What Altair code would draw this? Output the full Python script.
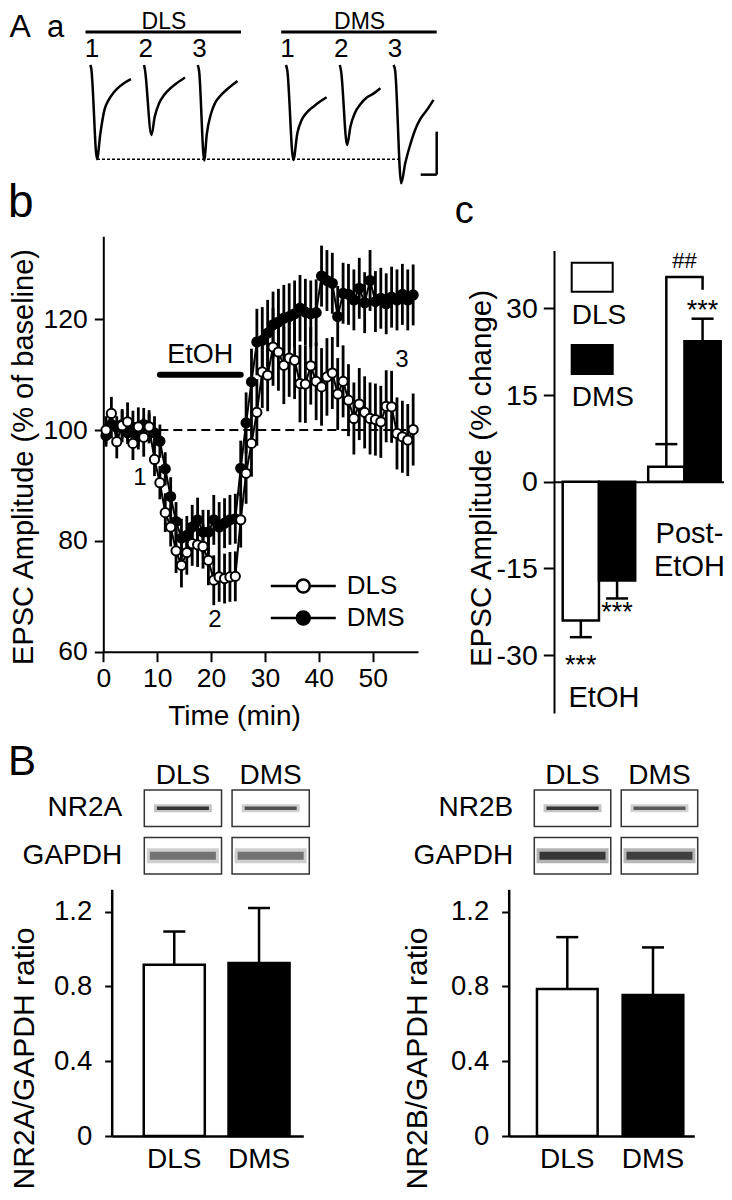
import altair as alt
import pandas as pd

FONT = "Liberation Sans"
W, H = 716, 1184
MARGIN = 8


def px(v):
    """page pixel -> chart pixel (layout only)"""
    return v - MARGIN


REGIONS = ["DLS", "DMS"]

# ---------------- Panel A a : example EPSC traces (ms from onset, pA) ----------------
TRACE_DLS_1_T = [0, 0.6, 4.2, 6.3, 8.8, 11.5, 14.6, 17.7, 20.8, 25.4]
TRACE_DLS_1_I = [0, -8, -219, -159, -105, -81, -64, -52, -43, -33]
TRACE_DLS_2_T = [0, 0.6, 4.6, 6.7, 9.4, 12.5, 15.6, 19.8, 25.6]
TRACE_DLS_2_I = [0, -12, -163, -120, -89, -70, -57, -44, -29]
TRACE_DLS_3_T = [0, 0.8, 4.0, 5.6, 8.1, 10.8, 14.0, 18.1, 24.8]
TRACE_DLS_3_I = [0, -14, -222, -161, -115, -88, -72, -57, -37]
TRACE_DMS_1_T = [0, 0.8, 4.6, 7.1, 9.8, 12.9, 17.1, 21.3, 25.4]
TRACE_DMS_1_I = [0, -12, -221, -159, -128, -111, -97, -85, -75]
TRACE_DMS_2_T = [0, 0.8, 4.6, 6.7, 9.4, 12.9, 17.1, 21.3, 25.4]
TRACE_DMS_2_I = [0, -13, -186, -143, -112, -91, -75, -66, -54]
TRACE_DMS_3_T = [0, 1.0, 4.8, 7.3, 10.4, 13.5, 16.7, 20.8, 25.0]
TRACE_DMS_3_I = [0, -12, -275, -229, -186, -151, -126, -105, -81]
SCALEBAR_MS = 10
SCALEBAR_PA = 100

# ---------------- Panel b : time course ----------------
TIME_MIN = [0.5, 1.5, 2.5, 3.5, 4.5, 5.5, 6.5, 7.5, 8.5, 9.5,
            10.5, 11.5, 12.5, 13.5, 14.5, 15.5, 16.5, 17.5, 18.5, 19.5,
            20.5, 21.5, 22.5, 23.5, 24.5, 25.5, 26.5, 27.5, 28.5, 29.5,
            30.5, 31.5, 32.5, 33.5, 34.5, 35.5, 36.5, 37.5, 38.5, 39.5,
            40.5, 41.5, 42.5, 43.5, 44.5, 45.5, 46.5, 47.5, 48.5, 49.5,
            50.5, 51.5, 52.5, 53.5, 54.5, 55.5, 56.5, 57.5]
DLS_MEAN = [100.0, 103.0, 97.9, 100.8, 101.5, 97.6, 100.6, 98.7, 100.6, 94.7,
            90.5, 85.1, 82.5, 78.2, 75.6, 77.9, 79.5, 79.3, 79.0, 76.5,
            72.9, 73.5, 73.2, 73.5, 73.6, 83.8, 92.2, 97.6, 103.2, 110.5,
            109.9, 115.0, 114.1, 111.7, 113.0, 112.6, 108.4, 108.3, 111.6, 108.8,
            107.8, 109.6, 110.3, 106.5, 108.8, 105.4, 102.1, 104.7, 103.2, 102.1,
            101.9, 101.5, 104.3, 104.2, 99.4, 98.8, 98.2, 100.1]
DLS_SEM = [2.5, 3.0, 3.0, 3.0, 3.5, 3.0, 3.5, 3.5, 3.0, 3.0,
           3.0, 3.5, 3.5, 4.0, 4.0, 4.0, 4.0, 4.0, 4.0, 4.5,
           4.5, 4.5, 4.5, 4.5, 4.5, 5.0, 5.5, 6.0, 6.0, 6.5,
           6.5, 7.0, 7.0, 7.0, 7.0, 7.0, 7.0, 7.0, 7.0, 7.0,
           7.0, 7.0, 6.5, 6.5, 6.5, 6.5, 6.5, 6.5, 6.5, 6.5,
           6.5, 6.5, 6.5, 6.5, 6.5, 6.5, 6.5, 6.5]
DMS_MEAN = [99.0, 101.0, 100.5, 101.0, 99.5, 100.5, 99.0, 101.0, 100.5, 99.5,
            98.0, 93.0, 88.0, 83.5, 80.5, 81.0, 82.5, 83.8, 81.6, 81.6,
            83.8, 82.5, 83.2, 83.8, 84.0, 93.1, 101.3, 108.7, 115.9, 116.2,
            117.5, 119.0, 119.5, 120.2, 120.5, 121.0, 122.0, 121.3, 121.0, 121.2,
            127.8, 127.0, 126.5, 120.5, 124.7, 124.5, 123.5, 125.6, 123.0, 127.0,
            123.2, 123.8, 122.8, 124.0, 123.5, 124.5, 123.5, 124.4]
DMS_SEM = [2.0, 2.5, 2.0, 2.5, 2.0, 3.0, 2.5, 3.0, 2.5, 3.0,
           3.0, 3.0, 3.5, 3.5, 3.5, 3.5, 4.0, 4.0, 4.0, 4.0,
           4.5, 4.5, 4.5, 4.5, 4.5, 5.0, 5.5, 6.0, 6.0, 6.0,
           6.0, 6.0, 6.0, 6.0, 6.0, 6.0, 6.0, 6.0, 6.0, 6.0,
           5.5, 5.5, 5.5, 5.5, 5.5, 5.5, 5.5, 5.5, 5.5, 5.5,
           5.5, 5.5, 5.5, 5.5, 5.5, 5.5, 5.5, 5.5]
ETOH_START, ETOH_END = 10.5, 25.5
B_MARK_LABELS = ["1", "2", "3"]
B_MARK_T = [6.8, 20.7, 55.4]
B_MARK_V = [90.1, 64.5, 111.4]

# ---------------- Panel c : summary ----------------
C_PERIOD = ["EtOH", "EtOH", "Post", "Post"]
C_REGION = ["DLS", "DMS", "DLS", "DMS"]
C_MEAN = [-24.0, -17.1, 2.6, 24.3]
C_SEM = [2.9, 3.1, 3.9, 3.9]
C_SIG = ["***", "***", "", "***"]
C_PAIR_SIG = "##"

# ---------------- Panel B : western blots ----------------
BLOT_LANES = ["DLS", "DMS"]
NR2A_BAND = [0.85, 0.7]
NR2A_GAPDH_BAND = [0.6, 0.6]
NR2B_BAND = [0.85, 0.65]
NR2B_GAPDH_BAND = [0.95, 0.9]
NR2A_RATIO = [0.916, 0.925]
NR2A_RATIO_SEM = [0.178, 0.295]
NR2B_RATIO = [0.786, 0.755]
NR2B_RATIO_SEM = [0.278, 0.254]

# ======================= layout / styles =======================
AX = dict(domainColor="black", tickColor="black", labelColor="black",
          titleColor="black", grid=False, labelFont=FONT, titleFont=FONT,
          titleFontWeight="normal", domainWidth=2, tickWidth=2,
          labelFlush=False, labelOverlap=False)
FILL_EXPR = "datum.region == 'DLS' ? 'white' : 'black'"
units = []

# ---------------- Panel A ----------------
SWEEP_GAP_MS = 33.6
DMS_ONSET_MS = 122.3
xA = alt.Scale(domain=[0, 225], range=[px(90.3), px(90.3) + 225 * 1.6])
yA = alt.Scale(domain=[-300, 120], range=[px(65) + 300 * 0.43, px(65) - 120 * 0.43])


def XA(f):
    return alt.X(f, scale=xA, axis=None)


def YA(f):
    return alt.Y(f, scale=yA, axis=None)


trace_rows = []
for region, sweeps in [
    ("DLS", [(TRACE_DLS_1_T, TRACE_DLS_1_I), (TRACE_DLS_2_T, TRACE_DLS_2_I), (TRACE_DLS_3_T, TRACE_DLS_3_I)]),
    ("DMS", [(TRACE_DMS_1_T, TRACE_DMS_1_I), (TRACE_DMS_2_T, TRACE_DMS_2_I), (TRACE_DMS_3_T, TRACE_DMS_3_I)]),
]:
    for k, (ts, amps) in enumerate(sweeps, start=1):
        for t, a in zip(ts, amps):
            trace_rows.append(dict(region=region, sweep=k, t=t, amp=a))
trace_df = pd.DataFrame(trace_rows)
ONSET = f"((datum.region == 'DMS' ? {DMS_ONSET_MS} : 0) + (datum.sweep - 1) * {SWEEP_GAP_MS})"

units.append(alt.Chart(trace_df).transform_calculate(
    x=f"datum.t + {ONSET}", trace="datum.region + datum.sweep"
).mark_line(color="black", strokeWidth=2.5, interpolate="monotone").encode(
    x=XA("x:Q"), y=YA("amp:Q"), detail="trace:N"))

sweep_df = pd.DataFrame([(r, s) for r in REGIONS for s in (1, 2, 3)], columns=["region", "sweep"])
units.append(alt.Chart(sweep_df).transform_calculate(
    x=f"{ONSET} + 1", y="19", label="'' + datum.sweep"
).mark_text(fontSize=26, baseline="alphabetic", color="black").encode(
    x=XA("x:Q"), y=YA("y:Q"), text="label:N"))

grp = alt.Chart(pd.DataFrame({"region": REGIONS})).transform_calculate(
    onset=f"datum.region == 'DMS' ? {DMS_ONSET_MS} : 0",
    x0="datum.onset - 3", x1=f"datum.onset + {2 * SWEEP_GAP_MS + 27}",
    xm="datum.onset + 46", ybar="77", ylab="84")
units.append(grp.mark_rule(strokeWidth=3, color="black").encode(x=XA("x0:Q"), x2="x1:Q", y=YA("ybar:Q")))
units.append(grp.mark_text(fontSize=23, baseline="alphabetic", color="black").encode(
    x=XA("xm:Q"), y=YA("ylab:Q"), text="region:N"))

ref_level = min(TRACE_DLS_1_I)
ref_x0 = TRACE_DLS_1_T[TRACE_DLS_1_I.index(ref_level)]
ref_x1 = DMS_ONSET_MS + 2 * SWEEP_GAP_MS + TRACE_DMS_3_T[TRACE_DMS_3_I.index(min(TRACE_DMS_3_I))]
units.append(alt.Chart(pd.DataFrame({"x0": [ref_x0], "x1": [ref_x1], "y": [ref_level]})).mark_rule(
    strokeDash=[3, 2], strokeWidth=1.5, color="black").encode(x=XA("x0:Q"), x2="x1:Q", y=YA("y:Q")))

SB_X, SB_Y = 216.5, -255
sb_df = pd.DataFrame({"x0": [SB_X, SB_X - SCALEBAR_MS], "x1": [SB_X, SB_X],
                      "y0": [SB_Y, SB_Y], "y1": [SB_Y + SCALEBAR_PA, SB_Y]})
units.append(alt.Chart(sb_df).mark_rule(strokeWidth=2.5, color="black").encode(
    x=XA("x0:Q"), x2="x1:Q", y=YA("y0:Q"), y2="y1:Q"))

units.append(alt.Chart(pd.DataFrame({"label": ["A", "a"], "x": [-50.5, -27.1], "y": [65.0, 65.0],
                                     "fs": [32, 31]})).mark_text(
    align="left", baseline="alphabetic", color="black").encode(
    x=XA("x:Q"), y=YA("y:Q"), text="label:N", size=alt.Size("fs:Q", scale=None)))

# ---------------- Panel b ----------------
xB = alt.Scale(domain=[0, 58.4], range=[px(103.3), px(418)])
yB = alt.Scale(domain=[60, 135], range=[px(651.7), px(651.7) - 75 * 5.54])


def XB(f, axis=None):
    return alt.X(f, scale=xB, axis=axis)


def YB(f, axis=None):
    return alt.Y(f, scale=yB, axis=axis)


b_rows = []
for region, means, sems in [("DMS", DMS_MEAN, DMS_SEM), ("DLS", DLS_MEAN, DLS_SEM)]:
    for t, m, s in zip(TIME_MIN, means, sems):
        b_rows.append(dict(region=region, t=t, mean=m, sem=s))
b_df = pd.DataFrame(b_rows)

xB_axis = alt.Axis(orient="bottom", offset=px(651.7) - H, values=[0, 10, 20, 30, 40, 50],
                   tickSize=10, labelFontSize=26.5, labelPadding=4, title="Time (min)",
                   titleFontSize=28, titleX=px(234), titleY=73, titleBaseline="alphabetic",
                   titleAlign="center", **AX)
yB_axis = alt.Axis(orient="left", offset=-px(103.3), values=[60, 80, 100, 120], tickSize=9,
                   labelFontSize=26.5, labelPadding=7, title="EPSC Amplitude (% of baseline)",
                   titleFontSize=29, titleX=32 - 103.3, titleY=px(456.5), titleAngle=270,
                   titleBaseline="alphabetic", titleAlign="center", **AX)

units.append(alt.Chart(pd.DataFrame({"x0": [0.0], "x1": [57.5], "y": [100.0]})).mark_rule(
    strokeDash=[9, 5], strokeWidth=2, color="black").encode(x=XB("x0:Q"), x2="x1:Q", y=YB("y:Q")))

base_b = alt.Chart(b_df).transform_calculate(lo="datum.mean - datum.sem", hi="datum.mean + datum.sem")
units.append(base_b.mark_rule(strokeWidth=2.8, color="black").encode(
    x=XB("t:Q"), y=YB("lo:Q"), y2="hi:Q"))
units.append(base_b.mark_line(strokeWidth=2, color="black").encode(
    x=XB("t:Q"), y=YB("mean:Q"), detail="region:N"))

LEG_PATH = "M-2,0L-0.4,0M0.4,0L2,0M-0.4,0A0.4,0.4,0,1,0,0.4,0A0.4,0.4,0,1,0,-0.4,0Z"
legend_b = alt.Legend(orient="none", legendX=px(303.3) - 17.5, legendY=px(586) - 17.5, title=None,
                      symbolType=LEG_PATH, symbolSize=1056, symbolStrokeColor="black",
                      symbolStrokeWidth=2.5, symbolOpacity=1, labelFontSize=26, labelFont=FONT,
                      labelColor="black", labelOffset=26, rowPadding=1, padding=0)
units.append(base_b.mark_point(filled=True, shape="circle", size=85, stroke="black", strokeWidth=2,
                               opacity=1).encode(
    x=XB("t:Q", xB_axis), y=YB("mean:Q", yB_axis),
    fill=alt.Fill("region:N", scale=alt.Scale(domain=REGIONS, range=["white", "black"]),
                  legend=legend_b)))

etoh = alt.Chart(pd.DataFrame({"x0": [ETOH_START], "x1": [ETOH_END]})).transform_calculate(
    y="110", ylab="112.1", xm="(datum.x0 + datum.x1) / 2", label="'EtOH'")
units.append(etoh.mark_rule(strokeWidth=6, strokeCap="round", color="black").encode(
    x=XB("x0:Q"), x2="x1:Q", y=YB("y:Q")))
units.append(etoh.mark_text(fontSize=27, baseline="alphabetic", color="black").encode(
    x=XB("xm:Q"), y=YB("ylab:Q"), text="label:N"))

units.append(alt.Chart(pd.DataFrame({"label": B_MARK_LABELS, "t": B_MARK_T, "v": B_MARK_V})).mark_text(
    fontSize=24, baseline="alphabetic", color="black").encode(x=XB("t:Q"), y=YB("v:Q"), text="label:N"))

units.append(alt.Chart(pd.DataFrame({"label": ["b", "c", "B"], "t": [-17.7, 65.2, -17.7],
                                     "v": [138.5, 137.4, 37.7], "fs": [46, 38, 42]})).mark_text(
    align="left", baseline="alphabetic", color="black").encode(
    x=XB("t:Q"), y=YB("v:Q"), text="label:N", size=alt.Size("fs:Q", scale=None)))

# ---------------- Panel c ----------------
xC = alt.Scale(type="band", domain=["EtOH", "Post"], range=[px(554), px(732)], paddingInner=0.152,
               paddingOuter=0.117, align=0.435)
yC = alt.Scale(domain=[-40, 40], range=[px(481.7) + 40 * 5.78, px(481.7) - 40 * 5.78])
oC = alt.Scale(type="band", domain=REGIONS, paddingInner=0, paddingOuter=0)

xC_axis = alt.Axis(orient="bottom", offset=px(481.7) - H, labels=False, ticks=False, title=None, **AX)
yC_axis = alt.Axis(orient="left", offset=-px(554), values=[-30, -15, 0, 15, 30], tickSize=10.7,
                   labelFontSize=28.5, labelPadding=6, title="EPSC Amplitude (% change)",
                   labelExpr="datum.value < 0 ? '-' + abs(datum.value) : '' + datum.value",
                   titleFontSize=29.5, titleX=490 - 554, titleY=px(478), titleAngle=270,
                   titleBaseline="alphabetic", titleAlign="center", **AX)


def XC(axis=None):
    return alt.X("period:N", scale=xC, axis=axis)


def OC():
    return alt.XOffset("region:N", scale=oC)


def YC(f, axis=None):
    return alt.Y(f, scale=yC, axis=axis)


c_df = pd.DataFrame({"period": C_PERIOD, "region": C_REGION, "mean": C_MEAN, "sem": C_SEM, "sig": C_SIG})
base_c = alt.Chart(c_df).transform_calculate(
    end="datum.mean < 0 ? datum.mean - datum.sem : datum.mean + datum.sem", fillc=FILL_EXPR)
units.append(base_c.mark_bar(stroke="black", strokeWidth=2.5).encode(
    x=XC(xC_axis), xOffset=OC(), y=YC("mean:Q", yC_axis), fill=alt.Fill("fillc:N", scale=None)))
units.append(base_c.mark_rule(strokeWidth=2.5, color="black").encode(
    x=XC(), xOffset=OC(), y=YC("mean:Q"), y2="end:Q"))
units.append(base_c.mark_tick(orient="horizontal", size=22, thickness=2.5, color="black", opacity=1).encode(
    x=XC(), xOffset=OC(), y=YC("end:Q")))
units.append(base_c.transform_filter("datum.mean < 0 && datum.region == 'DLS'").mark_text(
    fontSize=27, baseline="top", dy=16, color="black").encode(x=XC(), xOffset=OC(), y=YC("end:Q"), text="sig:N"))
units.append(base_c.transform_filter("datum.mean < 0 && datum.region == 'DMS'").mark_text(
    fontSize=27, baseline="top", dy=1.5, color="black").encode(x=XC(), xOffset=OC(), y=YC("end:Q"), text="sig:N"))
units.append(base_c.transform_filter("datum.mean > 0").mark_text(
    fontSize=27, baseline="alphabetic", color="black").encode(x=XC(), xOffset=OC(), y=YC("end:Q"), text="sig:N"))

BRACKET_Y = 35.4
BRACKET_DROP = 33.2
units.append(base_c.transform_filter("datum.period == 'Post'").transform_calculate(
    lo=f"datum.region == 'DLS' ? datum.end : {BRACKET_DROP}", hi=f"{BRACKET_Y}"
).mark_rule(strokeWidth=2.5, color="black").encode(x=XC(), xOffset=OC(), y=YC("lo:Q"), y2="hi:Q"))
bracket = alt.Chart(pd.DataFrame({"period": ["Post"], "y": [BRACKET_Y], "label": [C_PAIR_SIG]}))
units.append(bracket.mark_tick(orient="horizontal", size=38.5, thickness=2.5, color="black",
                               opacity=1).encode(x=XC(), y=YC("y:Q")))
units.append(bracket.mark_text(fontSize=22, baseline="alphabetic", dy=-9, color="black").encode(
    x=XC(), y=YC("y:Q"), text="label:N"))
units.append(alt.Chart(pd.DataFrame({"period": ["Post", "Post", "EtOH"], "y": [-10.6, -16.4, -38.9],
                                     "label": ["Post-", "EtOH", "EtOH"]})).mark_text(
    fontSize=29, baseline="alphabetic", dx=5, color="black").encode(x=XC(), y=YC("y:Q"), text="label:N"))

# legend of panel c (boxes with labels beneath)
yLc = alt.Scale(type="band", domain=REGIONS, range=[px(262.7), px(262.7) + 82.3 * (2 - 0.648)],
                paddingInner=0.648, paddingOuter=0)
xLc = alt.Scale(type="band", domain=["key"], range=[px(571.7), px(612.7)], paddingInner=0, paddingOuter=0)
leg_c = alt.Chart(pd.DataFrame({"region": REGIONS})).transform_calculate(key="'key'", fillc=FILL_EXPR)
units.append(leg_c.mark_rect(stroke="black", strokeWidth=2).encode(
    x=alt.X("key:N", scale=xLc, axis=None), y=alt.Y("region:N", scale=yLc, axis=None),
    fill=alt.Fill("fillc:N", scale=None)))
units.append(leg_c.mark_text(fontSize=28, align="left", baseline="alphabetic", dx=-20.5, dy=46.5,
                             color="black").encode(
    x=alt.X("key:N", scale=xLc, axis=None), y=alt.Y("region:N", scale=yLc, axis=None), text="region:N"))


# ---------------- Panel B : blots and ratios ----------------
def blot_units(target, target_vals, gapdh_vals, x_img, label_pad):
    proteins = [target, "GAPDH"]
    rows = []
    for prot, vals in [(target, target_vals), ("GAPDH", gapdh_vals)]:
        for lane, v in zip(BLOT_LANES, vals):
            rows.append(dict(lane=lane, protein=prot, intensity=v))
    df = pd.DataFrame(rows)
    xs = alt.Scale(type="band", domain=BLOT_LANES, range=[px(x_img[0]), px(x_img[1])],
                   paddingInner=0.12, paddingOuter=0)
    ys = alt.Scale(type="band", domain=proteins, range=[px(790), px(874)], paddingInner=0.235, paddingOuter=0)
    xax = alt.Axis(orient="top", offset=-px(790), ticks=False, tickSize=0, domain=False, labelPadding=7,
                   labelBaseline="alphabetic", labelFontSize=28, labelAngle=0, title=None, **AX)
    yax = alt.Axis(orient="left", offset=-px(x_img[0]), ticks=False, tickSize=0, domain=False,
                   labelPadding=label_pad, labelFontSize=28, title=None, **AX)
    base = alt.Chart(df)
    out = [base.mark_rect(fill="white", stroke="#333333", strokeWidth=1.5).encode(
        x=alt.X("lane:N", scale=xs, axis=xax), y=alt.Y("protein:N", scale=ys, axis=yax))]

    def band(prot_filter, size, thick, k):
        return base.transform_filter(prot_filter).transform_calculate(
            op=f"datum.intensity * {k}").mark_tick(
            orient="horizontal", size=size, thickness=thick, color="#1a1a1a").encode(
            x=alt.X("lane:N", scale=xs, axis=None), y=alt.Y("protein:N", scale=ys, axis=None),
            opacity=alt.Opacity("op:Q", scale=None))

    tf = f"datum.protein == '{target}'"
    gf = "datum.protein == 'GAPDH'"
    out += [band(tf, 58, 8, 0.3), band(tf, 52, 3.5, 1.0), band(gf, 72, 15, 0.35), band(gf, 66, 8, 0.85)]
    return out


def ratio_units(means, sems, x_img, pi, po, align, title, title_x):
    df = pd.DataFrame({"region": REGIONS, "mean": means, "sem": sems})
    xs = alt.Scale(type="band", domain=REGIONS, range=[px(x_img[0]), px(x_img[1])], paddingInner=pi,
                   paddingOuter=po, align=align)
    ys = alt.Scale(domain=[0, 1.32], range=[px(1136), px(1136) - 1.32 * 186.9])
    xax = alt.Axis(orient="bottom", offset=px(1136) - H, ticks=False, tickSize=0, labelPadding=9,
                   labelFontSize=28, labelAngle=0, title=None, **{**AX, "domainWidth": 2.5})
    yax = alt.Axis(orient="left", offset=-px(x_img[0]), values=[0, 0.4, 0.8, 1.2], tickSize=7,
                   labelPadding=13, labelFontSize=27.5,
                   labelExpr="datum.value == 0 ? '0' : format(datum.value, '.1f')",
                   title=title, titleFontSize=30, titleX=title_x, titleY=px(1058), titleAngle=270,
                   titleBaseline="alphabetic", titleAlign="center", **{**AX, "domainWidth": 2.5})
    base = alt.Chart(df).transform_calculate(hi="datum.mean + datum.sem", fillc=FILL_EXPR)
    return [
        base.mark_bar(stroke="black", strokeWidth=2.5).encode(
            x=alt.X("region:N", scale=xs, axis=xax), y=alt.Y("mean:Q", scale=ys, axis=yax),
            fill=alt.Fill("fillc:N", scale=None)),
        base.mark_rule(strokeWidth=2.5, color="black").encode(
            x=alt.X("region:N", scale=xs, axis=None), y=alt.Y("mean:Q", scale=ys, axis=None), y2="hi:Q"),
        base.mark_tick(orient="horizontal", size=22, thickness=2.5, color="black", opacity=1).encode(
            x=alt.X("region:N", scale=xs, axis=None), y=alt.Y("hi:Q", scale=ys, axis=None)),
    ]


units += blot_units("NR2A", NR2A_BAND, NR2A_GAPDH_BAND, (144.3, 309.3), 22.6)
units += blot_units("NR2B", NR2B_BAND, NR2B_GAPDH_BAND, (534.3, 697.7), 21.6)
units += ratio_units(NR2A_RATIO, NR2A_RATIO_SEM, (111.7, 303.3), 0.28, 0.27, 0.70,
                     "NR2A/GAPDH ratio", 33 - 111.7)
units += ratio_units(NR2B_RATIO, NR2B_RATIO_SEM, (508.7, 694.3), 0.292, 0.229, 0.72,
                     "NR2B/GAPDH ratio", 426 - 508.7)

chart = alt.layer(*units).resolve_scale(
    x="independent", y="independent", xOffset="independent"
).resolve_axis(
    x="independent", y="independent"
).properties(
    width=W, height=H, autosize=alt.AutoSizeParams(type="none"), padding=0
).configure(font=FONT).configure_view(stroke=None)

chart.save("out.html", embed_options={"renderer": "svg", "actions": False})
